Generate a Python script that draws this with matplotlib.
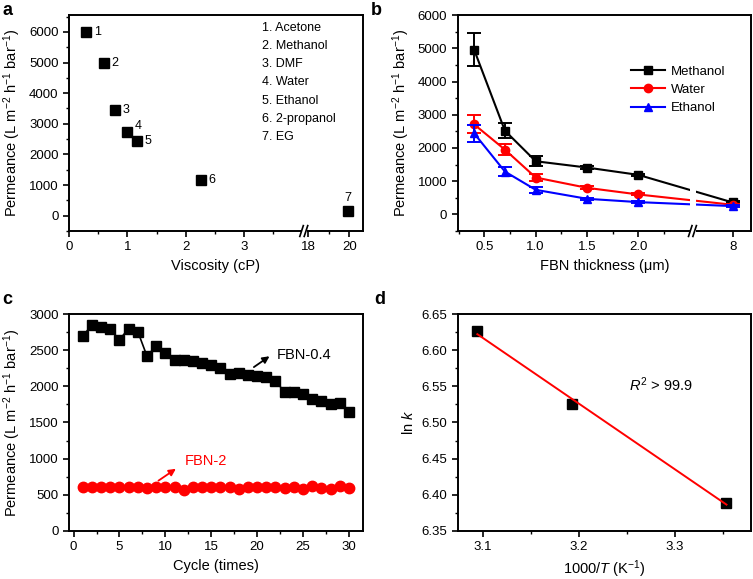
import numpy as np
import matplotlib
matplotlib.use('Agg')
import matplotlib.pyplot as plt
from matplotlib.ticker import FixedLocator, NullFormatter
from matplotlib.patches import Rectangle

plt.rcParams['font.family'] = ['Liberation Sans', 'DejaVu Sans']
plt.rcParams['mathtext.fontset'] = 'custom'
plt.rcParams['mathtext.rm'] = 'Liberation Sans'
plt.rcParams['mathtext.it'] = 'Liberation Sans:italic'
plt.rcParams['axes.linewidth'] = 1.4

# --- données (a) perméance vs viscosité
solvants = ['Acetone', 'Methanol', 'DMF', 'Water', 'Ethanol', '2-propanol', 'EG']
viscosite = [0.30, 0.60, 0.79, 0.99, 1.16, 2.26, 19.95]
perm_a = [5990, 4970, 3440, 2720, 2450, 1160, 160]

# --- données (b) perméance vs épaisseur FBN
epaisseur = [0.4, 0.7, 1.0, 1.5, 2.0, 8]
methanol = [4960, 2520, 1600, 1410, 1190, 360]
methanol_err = [490, 220, 150, 50, 40, 30]
water = [2710, 1950, 1110, 800, 600, 290]
water_err = [270, 170, 100, 40, 30, 20]
ethanol = [2440, 1290, 740, 470, 370, 250]
ethanol_err = [250, 140, 90, 30, 30, 20]

# --- données (c) cycles
cycles = list(range(1, 31))
fbn04 = [2700, 2850, 2830, 2790, 2650, 2800, 2760, 2420, 2560, 2470,
         2360, 2360, 2350, 2330, 2300, 2260, 2170, 2180, 2165, 2140,
         2130, 2080, 1920, 1920, 1900, 1820, 1800, 1760, 1770, 1650]
fbn2 = [610, 605, 600, 600, 605, 610, 600, 590, 600, 610,
        605, 560, 600, 605, 600, 600, 600, 575, 610, 605,
        600, 600, 590, 600, 585, 620, 590, 575, 620, 590]

# --- données (d) Arrhenius
inv_T = [3.0945, 3.1934, 3.354]
ln_k = [6.627, 6.525, 6.389]

perm_label = 'Permeance (L m$^{-2}$ h$^{-1}$ bar$^{-1}$)'
FS = 9.5    # graduations
FL = 10.5   # titres des axes


def piecewise(x1, x2, t2, slope):
    """échelle coupée : identité jusqu'à x1, puis t = t2 + (x - x2)*slope"""
    xs = [-100, x1, x2 - (t2 - x1) / slope, 200]
    ts = [-100, x1, x1 + 1e-5, t2 + (200 - x2) * slope]
    fwd = lambda x: np.interp(x, xs, ts)
    inv = lambda t: np.interp(t, ts, xs)
    return fwd, inv


def style(ax):
    ax.tick_params(which='major', direction='out', length=4, width=1.2, labelsize=FS, top=False, right=False)
    ax.tick_params(which='minor', direction='out', length=2.5, width=1.0, top=False, right=False)


def coupure(ax, xf, full=False):
    # trou blanc + deux barres obliques sur l'axe du bas
    y0, h = (-0.03, 0.97) if full else (-0.03, 0.06)
    ax.add_patch(Rectangle((xf - 0.011, y0), 0.022, h, transform=ax.transAxes,
                           facecolor='white', edgecolor='none', zorder=5, clip_on=False))
    for dx in (-0.009, 0.006):
        ax.plot([xf + dx - 0.006, xf + dx + 0.006], [-0.025, 0.025], transform=ax.transAxes,
                color='k', lw=1.2, clip_on=False, zorder=6)


fig = plt.figure(figsize=(7.53, 5.79), dpi=100)
ax_a = fig.add_axes([0.0916, 0.601, 0.390, 0.373])
ax_b = fig.add_axes([0.6078, 0.601, 0.3895, 0.373])
ax_c = fig.add_axes([0.0916, 0.0834, 0.390, 0.3738])
ax_d = fig.add_axes([0.6078, 0.0834, 0.3895, 0.3738])

# ---------- a
fa, ia = piecewise(4.03, 18, 4.10, 0.351)
ax_a.set_xscale('function', functions=(fa, ia))
ax_a.plot(viscosite, perm_a, 's', color='k', ms=6.7, zorder=3)
for i, (x, y) in enumerate(zip(viscosite, perm_a)):
    if i == 3:
        off, ha = (5.8, 4.3), 'left'
    elif i == 6:
        off, ha = (0, 9), 'center'
    else:
        off, ha = (5.5, 0), 'left'
    ax_a.annotate(str(i + 1), (x, y), xytext=off, textcoords='offset points',
                  ha=ha, va='center', fontsize=9)
for i, nom in enumerate(solvants):
    ax_a.text(0.656, 0.941 - i * 0.0843, f'{i + 1}. {nom}', transform=ax_a.transAxes,
              fontsize=9, va='center')
ax_a.set_xlim(0, 20.65)
ax_a.set_ylim(-500, 6550)
ax_a.xaxis.set_major_locator(FixedLocator([0, 1, 2, 3, 18, 20]))
ax_a.xaxis.set_minor_locator(FixedLocator([0.5, 1.5, 2.5, 3.5, 19]))
ax_a.set_xticklabels(['0', '1', '2', '3', '18', '20'])
ax_a.xaxis.set_minor_formatter(NullFormatter())
ax_a.set_yticks([0, 1000, 2000, 3000, 4000, 5000, 6000])
ax_a.yaxis.set_minor_locator(FixedLocator(np.arange(-500, 6600, 500)))
ax_a.set_xlabel('Viscosity (cP)', fontsize=FL)
ax_a.set_ylabel(perm_label, fontsize=FL)
style(ax_a)
coupure(ax_a, 0.801)

# ---------- b
fb, ib = piecewise(2.53, 8, 2.919, 0.1)
ax_b.set_xscale('function', functions=(fb, ib))
kw = dict(fmt='none', capsize=5, capthick=1.4, elinewidth=1.4)
series_b = [(methanol, methanol_err, 's', 'k', 5.5, 'Methanol'),
            (water, water_err, 'o', '#ff0000', 6, 'Water'),
            (ethanol, ethanol_err, '^', '#0000ff', 6, 'Ethanol')]
for vals, errs, mk, col, ms, nom in series_b:
    ax_b.errorbar(epaisseur, vals, yerr=errs, ecolor=col, **kw)
    ax_b.plot(epaisseur, vals, '-' + mk, color=col, ms=ms, lw=1.5, label=nom)
ax_b.set_xlim(0.24, 9.78)
ax_b.set_ylim(-500, 6000)
ax_b.xaxis.set_major_locator(FixedLocator([0.5, 1.0, 1.5, 2.0, 8]))
ax_b.set_xticklabels(['0.5', '1.0', '1.5', '2.0', '8'])
ax_b.xaxis.set_minor_locator(FixedLocator([0.25, 0.75, 1.25, 1.75, 2.25]))
ax_b.xaxis.set_minor_formatter(NullFormatter())
ax_b.set_yticks([0, 1000, 2000, 3000, 4000, 5000, 6000])
ax_b.yaxis.set_minor_locator(FixedLocator(np.arange(-500, 6000, 500)))
ax_b.set_xlabel('FBN thickness (μm)', fontsize=FL)
ax_b.set_ylabel(perm_label, fontsize=FL)
ax_b.legend(loc='upper right', bbox_to_anchor=(0.93, 0.79), frameon=False, fontsize=9.5,
            handlelength=2.6, handletextpad=0.4, labelspacing=0.45, borderaxespad=0)
style(ax_b)
coupure(ax_b, 0.802, full=True)

# ---------- c
ax_c.plot(cycles, fbn04, '-s', color='k', ms=7, lw=1.2)
ax_c.plot(cycles, fbn2, '-o', color='#ff0000', ms=7.5, lw=1.2)
ax_c.annotate('', xy=(21.6, 2440), xytext=(19.4, 2246),
              arrowprops=dict(arrowstyle='-|>', color='k', lw=1.3, mutation_scale=10))
ax_c.text(22.1, 2440, 'FBN-0.4', fontsize=FL, va='center')
ax_c.annotate('', xy=(11.4, 880), xytext=(9.0, 672),
              arrowprops=dict(arrowstyle='-|>', color='#ff0000', lw=1.3, mutation_scale=10))
ax_c.text(12.1, 964, 'FBN-2', fontsize=FL, va='center', color='#ff0000')
ax_c.set_xlim(-0.5, 31.5)
ax_c.set_ylim(0, 3000)
ax_c.set_xticks([0, 5, 10, 15, 20, 25, 30])
ax_c.xaxis.set_minor_locator(FixedLocator(np.arange(2.5, 31, 5)))
ax_c.set_yticks(np.arange(0, 3001, 500))
ax_c.yaxis.set_minor_locator(FixedLocator(np.arange(250, 3000, 500)))
ax_c.set_xlabel('Cycle (times)', fontsize=FL)
ax_c.set_ylabel(perm_label, fontsize=FL)
style(ax_c)

# ---------- d
pente, ordonnee = np.polyfit(inv_T, ln_k, 1)
xf = np.array([min(inv_T), max(inv_T)])
ax_d.plot(inv_T, ln_k, 's', color='k', ms=7, zorder=2)
ax_d.plot(xf, pente * xf + ordonnee, '-', color='#ff0000', lw=1.4, zorder=3)
ax_d.text(3.286, 6.552, '$R^2$ > 99.9', fontsize=FL, ha='center', va='center')
ax_d.set_xlim(3.074, 3.3795)
ax_d.set_ylim(6.35, 6.65)
ax_d.set_xticks([3.1, 3.2, 3.3])
ax_d.xaxis.set_minor_locator(FixedLocator([3.15, 3.25, 3.35]))
ax_d.set_yticks(np.arange(6.35, 6.651, 0.05))
ax_d.yaxis.set_minor_locator(FixedLocator(np.arange(6.375, 6.65, 0.05)))
ax_d.set_xlabel('1000/$T$ (K$^{-1}$)', fontsize=FL)
ax_d.set_ylabel('ln $k$', fontsize=FL)
style(ax_d)

# lettres des panneaux
for lettre, (x, y) in zip('abcd', [(0.003, 0.982), (0.493, 0.982), (0.003, 0.482), (0.497, 0.482)]):
    fig.text(x, y, lettre, fontsize=13, fontweight='bold', va='center')

fig.savefig('out.png', dpi=100)
